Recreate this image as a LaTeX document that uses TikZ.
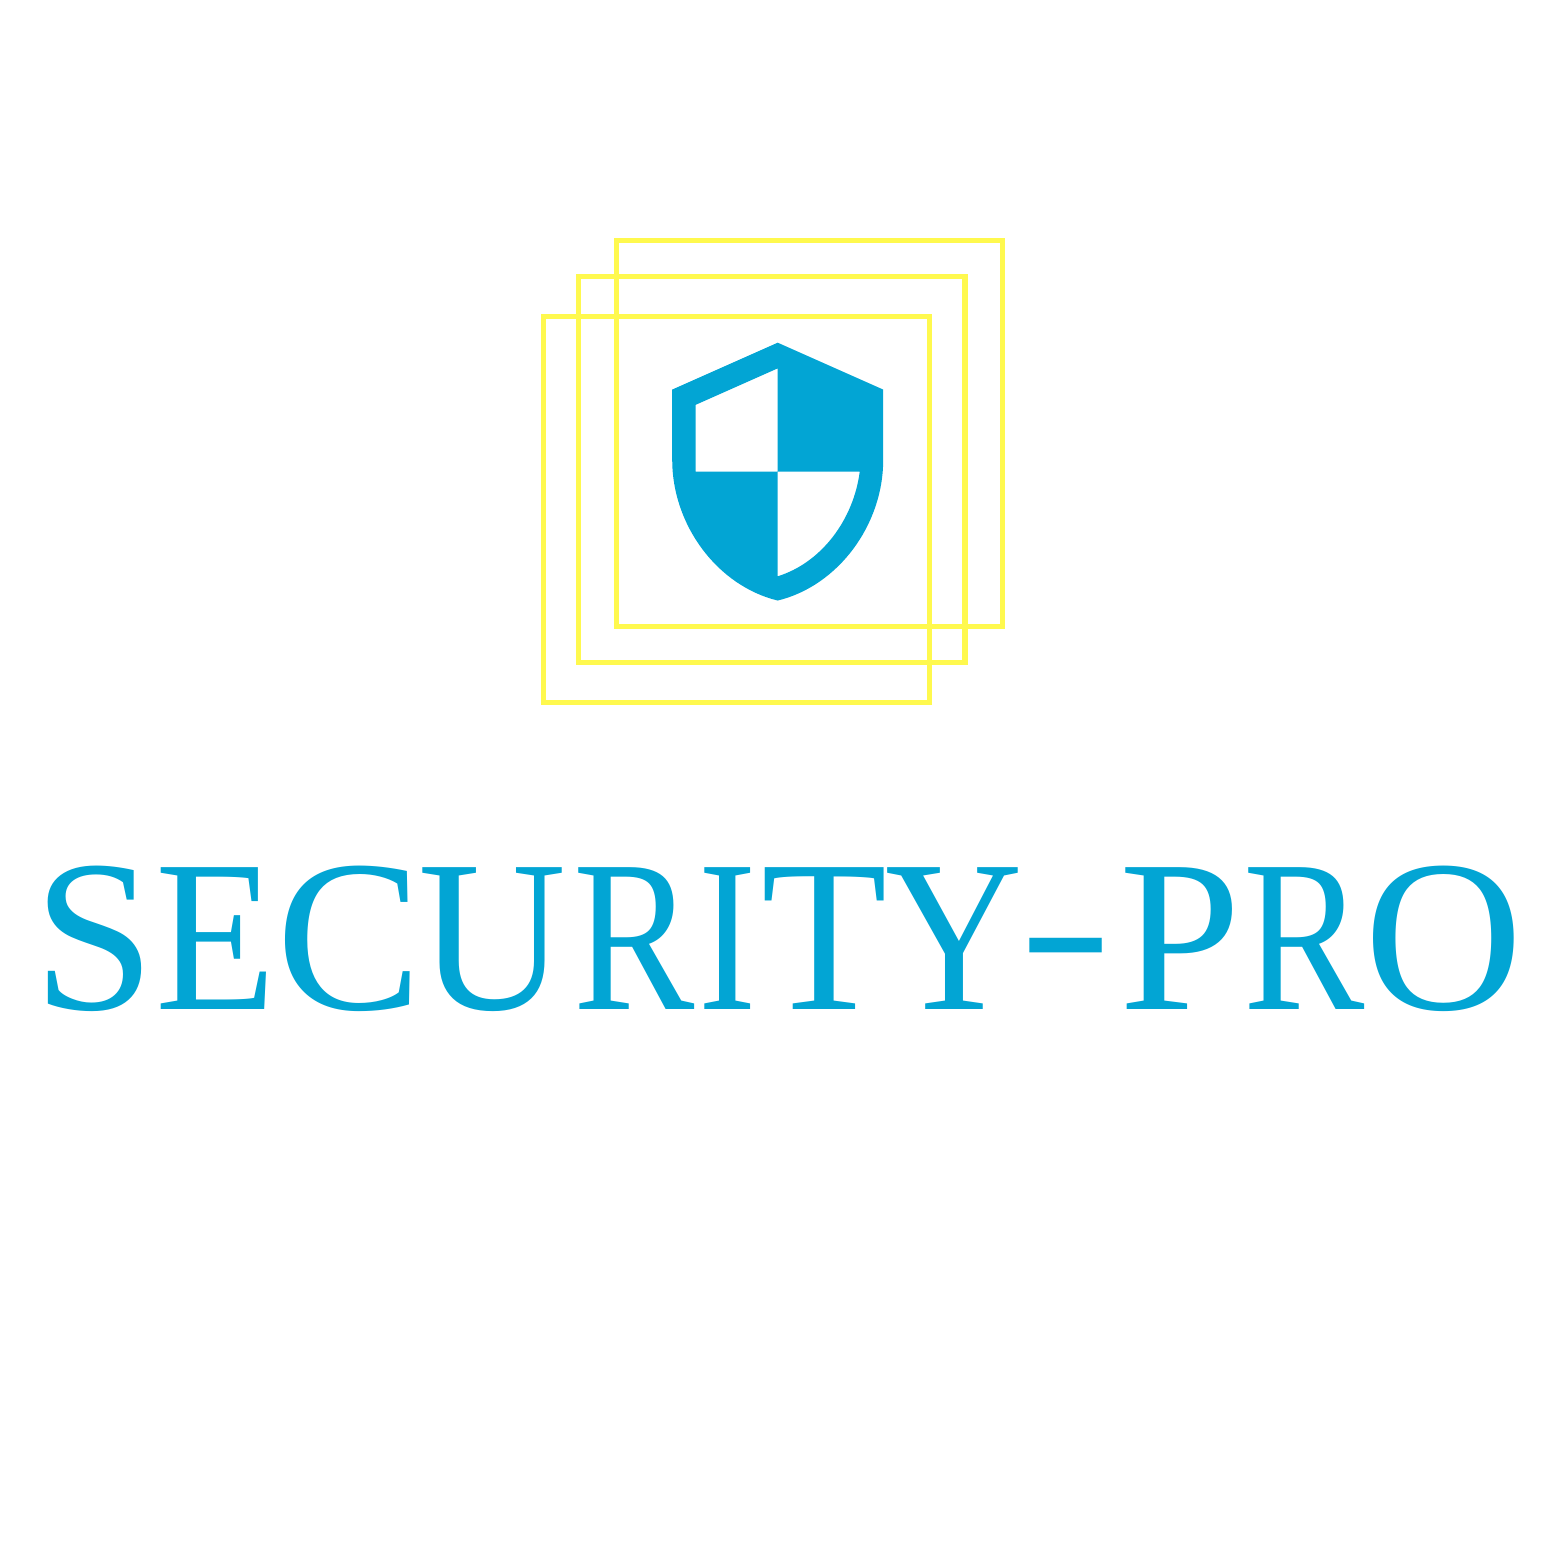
\documentclass[tikz,border=0pt]{standalone}
\usepackage{fontspec}
\setmainfont{Liberation Serif}
\definecolor{shield}{HTML}{02A5D4}
\definecolor{frame}{HTML}{FFF94E}
\newcommand{\placeL}[3]{\rlap{\kern#1\dimexpr0.48pt\relax\scalebox{#2}[1]{#3}}}
\newcommand{\placeH}[3]{\rlap{\kern#1\dimexpr0.48pt\relax\raisebox{8.6pt}{\scalebox{#2}[0.9]{#3}}}}
\tikzset{frameline/.style={draw=frame,line width=2.55pt,fill=none},
shieldfill/.style={fill=shield,draw=none,even odd rule},
logotext/.style={text=shield,inner sep=0pt,anchor=base west,font=\fontsize{104pt}{104pt}\selectfont}}
\begin{document}
\begin{tikzpicture}[x=0.48pt,y=-0.48pt]
\useasboundingbox (0,0) rectangle (1562,1562);
\fill[white] (0,0) rectangle (1562,1562);
\draw[frameline] (616.7,240.7) rectangle (1002.7,626.7);
\draw[frameline] (578.7,276.7) rectangle (965,662.7);
\draw[frameline] (543.7,316.7) rectangle (929.7,702.7);
\begin{scope}[shift={(637.06,330.98)},x=5.6256pt,y=-5.6256pt]
\fill[shieldfill] (12,1) -- (3,5) -- (3,11) .. controls (3,16.55) and (6.84,21.74) .. (12,23) .. controls (17.16,21.74) and (21,16.55) .. (21,11) -- (21,5) -- cycle
 (12,11.99) -- (19,11.99) .. controls (18.47,16.11) and (15.72,19.78) .. (12,20.93) -- (12,12) -- (5,12) -- (5,6.3) -- (12,3.19) -- cycle;
\end{scope}
\node[logotext] (title) at (0,1009) {\placeL{33}{1.01}{S}\placeL{154.6}{.913}{E}\placeL{276}{1.008}{C}\placeL{418}{.946}{U}\placeL{573}{.84}{R}\placeL{698}{.807}{I}\placeL{761.5}{.952}{T}\placeL{885}{.879}{Y}\placeH{1019}{1.286}{-}\placeL{1119.5}{1.01}{P}\placeL{1243}{.84}{R}\placeL{1364.5}{1.014}{O}\phantom{x}};
\end{tikzpicture}
\end{document}
